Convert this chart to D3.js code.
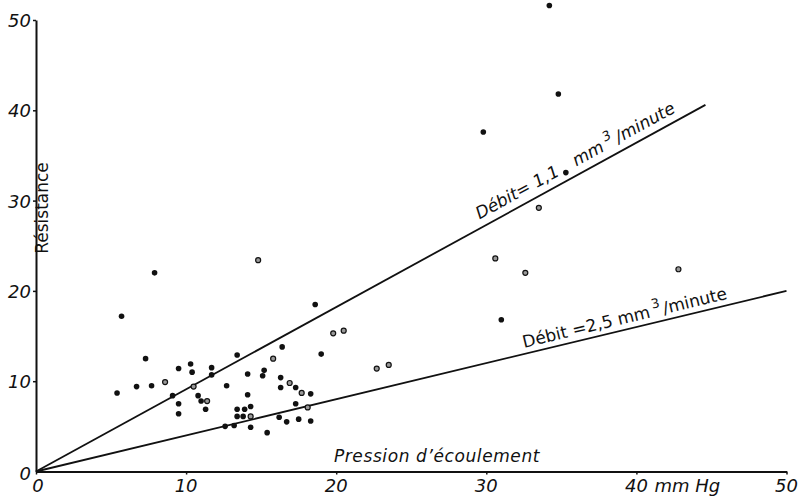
<!DOCTYPE html>
<html>
<head>
<meta charset="utf-8">
<script src="https://cdn.jsdelivr.net/npm/d3@7"></script>
<style>
  body { margin: 0; background: #fff; }
  text { font-family: "DejaVu Sans", sans-serif; fill: #111; }
  .tick-label { font-style: italic; font-size: 18px; }
</style>
</head>
<body>
<div id="chart"></div>
<script>
// ticks on both axes
const xTicks = [0, 10, 20, 30, 40, 50];
const yTicks = [10, 20, 30, 40, 50];

// filled points [pression, resistance]
const solidPoints = [
  [7.9, 22.0], [5.7, 17.2], [7.3, 12.5], [5.4, 8.7], [6.7, 9.4], [7.7, 9.5],
  [9.1, 8.4], [9.5, 7.5], [9.5, 6.4], [9.5, 11.4], [10.3, 11.9], [10.4, 11.0],
  [10.8, 8.4], [11.0, 7.8], [11.3, 6.9], [11.7, 11.5], [11.7, 10.7], [13.4, 12.9],
  [12.7, 9.5], [14.1, 10.8], [14.1, 8.5], [13.4, 6.9], [13.9, 6.9], [14.3, 7.2],
  [13.4, 6.1], [13.8, 6.1], [12.6, 5.0], [13.2, 5.1], [14.3, 4.9], [15.4, 4.3],
  [15.2, 11.2], [15.1, 10.6], [18.6, 18.5], [16.4, 13.8], [19.0, 13.0], [16.3, 10.4],
  [16.3, 9.3], [17.3, 9.3], [18.3, 8.6], [17.3, 7.5], [16.2, 6.0], [16.7, 5.5],
  [17.5, 5.8], [18.3, 5.6], [34.2, 51.6], [34.8, 41.8], [29.8, 37.6], [35.3, 33.1],
  [31.0, 16.8]
];

// points drawn as a ring with grey centre
const ringPoints = [
  [14.8, 23.4], [8.6, 9.9], [10.5, 9.4], [11.4, 7.8], [14.3, 6.1], [19.8, 15.3],
  [20.5, 15.6], [15.8, 12.5], [16.9, 9.8], [17.7, 8.7], [18.1, 7.1], [22.7, 11.4],
  [23.5, 11.8], [33.5, 29.2], [30.6, 23.6], [32.6, 22.0], [42.8, 22.4]
];

// the two flow lines, endpoints in data units
const debit11 = [[0, 0], [44.6, 40.6]];
const debit25 = [[0, 0], [50, 20]];

var width = 799, height = 496;

var x = d3.scaleLinear().domain([0, 50]).range([36, 786.5]);
var y = d3.scaleLinear().domain([0, 50]).range([471.5, 20]);

var svg = d3.select("#chart").append("svg")
    .attr("width", width)
    .attr("height", height);

// axes
svg.append("g")
    .attr("transform", `translate(0, ${y(0)})`)
    .call(d3.axisBottom(x).tickValues(xTicks).tickSize(3).tickSizeOuter(0).tickFormat(""));
svg.append("g")
    .attr("transform", `translate(${x(0)}, 0)`)
    .call(d3.axisLeft(y).tickValues(yTicks).tickSize(3).tickSizeOuter(0).tickFormat(""));

svg.selectAll(".domain").attr("stroke", "#111").attr("stroke-width", 2);
svg.selectAll(".tick line").attr("stroke", "#111").attr("stroke-width", 1.5);

// tick labels
svg.selectAll("text.xLabels")
    .data(xTicks).enter()
  .append("text")
    .attr("class", "tick-label")
    .attr("x", d => x(d) + (d == 0 ? 2 : 0))
    .attr("y", y(0) + 20)
    .attr("text-anchor", "middle")
    .text(d => d);

svg.append("text")
    .attr("class", "tick-label")
    .attr("x", x(40) + 18)
    .attr("y", y(0) + 20)
    .text("mm Hg");

svg.selectAll("text.yLabels")
    .data([0].concat(yTicks)).enter()
  .append("text")
    .attr("class", "tick-label")
    .attr("x", x(0) - 5)
    .attr("y", d => y(d) + 7 + (d == 0 ? 1 : 0))
    .attr("text-anchor", "end")
    .text(d => d);

// axis titles
svg.append("text")
    .attr("x", 437)
    .attr("y", y(0) - 10)
    .attr("text-anchor", "middle")
    .style("font-style", "italic")
    .style("font-size", "17px")
    .style("letter-spacing", "0.6px")
    .text("Pression d’écoulement");

svg.append("text")
    .attr("transform", `translate(48, 208) rotate(-90)`)
    .attr("text-anchor", "middle")
    .style("font-size", "17px")
    .text("Résistance");

// flow lines
var line = d3.line().x(d => x(d[0])).y(d => y(d[1]));
[debit11, debit25].forEach(seg => {
    svg.append("path")
        .datum(seg)
        .attr("d", line)
        .attr("fill", "none")
        .attr("stroke", "#111")
        .attr("stroke-width", 1.8);
});

// labels along the lines
function lineLabel(seg, atP, off, parts, italic) {
    var p0 = [x(seg[0][0]), y(seg[0][1])], p1 = [x(seg[1][0]), y(seg[1][1])];
    var angle = Math.atan2(p1[1] - p0[1], p1[0] - p0[0]) * 180 / Math.PI;
    var r = seg[1][1] / seg[1][0] * atP;
    var t = svg.append("text")
        .attr("transform", `translate(${x(atP)}, ${y(r)}) rotate(${angle}) translate(0, ${-off})`)
        .style("font-size", "17px")
        .style("font-style", italic ? "italic" : "normal");
    parts.forEach(p => {
        t.append("tspan")
            .attr("dx", p.dx || 0)
            .attr("dy", p.dy || 0)
            .style("font-size", p.size || "17px")
            .text(p.text);
    });
}

lineLabel(debit11, 29.8, 8, [
    {text: "Débit= 1,1"},
    {text: "mm", dx: 18},
    {text: "3", dx: 4, dy: -8, size: "13px"},
    {text: "/minute", dx: 3, dy: 8}
], true);

lineLabel(debit25, 32.6, 6, [
    {text: "Débit =2,5 mm"},
    {text: "3", dx: 3, dy: -8, size: "13px"},
    {text: "/minute", dx: 2, dy: 8}
], false);

// points
svg.selectAll("circle.solid")
    .data(solidPoints).enter()
  .append("circle")
    .attr("class", "solid")
    .attr("cx", d => x(d[0]))
    .attr("cy", d => y(d[1]))
    .attr("r", 2.8)
    .attr("fill", "#111");

svg.selectAll("circle.ring")
    .data(ringPoints).enter()
  .append("circle")
    .attr("class", "ring")
    .attr("cx", d => x(d[0]))
    .attr("cy", d => y(d[1]))
    .attr("r", 2.5)
    .attr("fill", "#999")
    .attr("stroke", "#111")
    .attr("stroke-width", 1.2);
</script>
</body>
</html>
